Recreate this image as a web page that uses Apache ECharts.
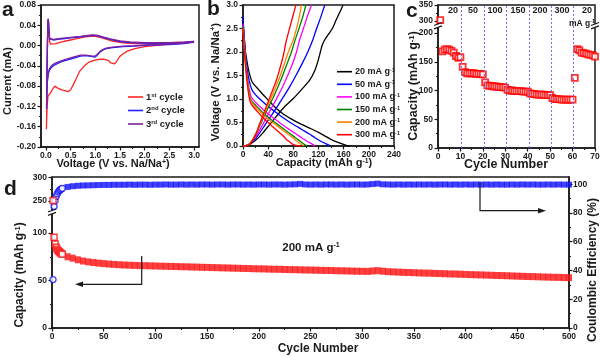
<!DOCTYPE html>
<html>
<head>
<meta charset="utf-8">
<script src="https://cdn.jsdelivr.net/npm/echarts@6.0.0/dist/echarts.min.js"></script>
<style>
html,body{margin:0;padding:0;background:#ffffff;}
#chart{width:600px;height:357px;}
</style>
</head>
<body>
<div id="chart"></div>
<script>
// ================= DATA =================
// (a) cyclic voltammetry: [voltage V, current mA]
const cvCycle1 = [[3.0,0.007],[2.8,0.005],[2.5,0.003],[2.2,0.0],[2.0,-0.002],[1.8,-0.006],[1.65,-0.011],[1.55,-0.017],[1.49,-0.022],[1.44,-0.030],[1.39,-0.036],[1.35,-0.037],[1.31,-0.034],[1.26,-0.029],[1.18,-0.027],[1.08,-0.027],[0.98,-0.029],[0.88,-0.032],[0.78,-0.040],[0.68,-0.051],[0.62,-0.064],[0.55,-0.078],[0.5,-0.087],[0.45,-0.091],[0.38,-0.089],[0.3,-0.087],[0.24,-0.084],[0.18,-0.080],[0.14,-0.085],[0.1,-0.092],[0.07,-0.095],[0.04,-0.1],[0.025,-0.12],[0.015,-0.145],[0.01,-0.165],
  [0.014,-0.14],[0.02,-0.08],[0.028,-0.02],[0.036,0.03],[0.043,0.05],[0.05,0.046],[0.06,0.025],[0.075,0.008],[0.09,0.003],[0.12,0.002],[0.2,0.004],[0.3,0.007],[0.4,0.009],[0.5,0.011],[0.6,0.013],[0.7,0.015],[0.8,0.017],[0.9,0.018],[1.0,0.018],[1.1,0.016],[1.2,0.013],[1.3,0.010],[1.4,0.008],[1.6,0.005],[1.8,0.004],[2.0,0.004],[2.3,0.004],[2.6,0.005],[2.8,0.006],[3.0,0.007]];
const cvCycle2 = [[3.0,0.007],[2.8,0.004],[2.5,0.002],[2.1,0.001],[1.8,-0.001],[1.56,-0.002],[1.35,-0.004],[1.22,-0.006],[1.15,-0.009],[1.09,-0.013],[1.04,-0.019],[0.99,-0.023],[0.94,-0.022],[0.88,-0.021],[0.8,-0.020],[0.7,-0.021],[0.55,-0.025],[0.4,-0.029],[0.28,-0.033],[0.18,-0.038],[0.11,-0.043],[0.07,-0.049],[0.047,-0.056],[0.03,-0.07],[0.02,-0.09],[0.012,-0.125],
  [0.016,-0.1],[0.022,-0.05],[0.03,0.0],[0.037,0.035],[0.044,0.052],[0.052,0.047],[0.062,0.028],[0.075,0.013],[0.09,0.010],[0.15,0.011],[0.3,0.013],[0.5,0.015],[0.7,0.017],[0.85,0.019],[0.95,0.020],[1.05,0.019],[1.15,0.016],[1.3,0.012],[1.5,0.008],[1.7,0.006],[2.0,0.005],[2.5,0.005],[2.8,0.006],[3.0,0.007]];
const cvCycle3 = [[3.0,0.008],[2.8,0.005],[2.5,0.003],[2.1,0.002],[1.8,0.0],[1.56,-0.001],[1.35,-0.003],[1.22,-0.005],[1.15,-0.008],[1.09,-0.012],[1.04,-0.017],[0.99,-0.021],[0.94,-0.021],[0.88,-0.020],[0.8,-0.019],[0.7,-0.019],[0.55,-0.023],[0.4,-0.027],[0.28,-0.031],[0.18,-0.035],[0.11,-0.040],[0.07,-0.046],[0.047,-0.053],[0.03,-0.068],[0.02,-0.088],[0.012,-0.12],
  [0.016,-0.1],[0.022,-0.05],[0.03,0.0],[0.037,0.036],[0.044,0.053],[0.052,0.048],[0.062,0.03],[0.075,0.014],[0.09,0.011],[0.15,0.012],[0.3,0.014],[0.5,0.016],[0.7,0.018],[0.85,0.020],[0.95,0.021],[1.05,0.020],[1.15,0.017],[1.3,0.013],[1.5,0.009],[1.7,0.007],[2.0,0.006],[2.5,0.006],[2.8,0.007],[3.0,0.008]];
const cvLabels = ['1{s|st} cycle', '2{s|nd} cycle', '3{s|rd} cycle'];

// (b) galvanostatic curves: [capacity mAh/g, voltage V]
const gcdRates = ['20', '50', '100', '150', '200', '300'];
const dis20 = [[0,2.65],[2,2.3],[4,2.0],[7,1.75],[10,1.55],[14,1.38],[18,1.3],[25,1.2],[32,1.09],[40,0.98],[53,0.8],[65,0.67],[80,0.55],[93,0.46],[106,0.38],[120,0.29],[132,0.2],[143,0.12],[154,0.06],[163,0.02],[170,0.0]];
const chg20 = [[0,0],[5,0.01],[10,0.03],[20,0.12],[31,0.27],[42,0.45],[53,0.63],[65,0.82],[80,1.01],[93,1.2],[106,1.4],[114,1.6],[119,1.8],[122,1.95],[126,2.15],[130,2.26],[136,2.38],[142,2.5],[148,2.68],[154,2.85],[159,3.0]];
const dis50 = [[0,2.75],[2,2.3],[4,1.95],[7,1.6],[10,1.38],[14,1.2],[18,1.12],[25,1.02],[35,0.9],[45,0.79],[55,0.69],[65,0.59],[75,0.5],[85,0.42],[95,0.34],[105,0.26],[115,0.17],[125,0.09],[133,0.04],[140,0.0]];
const chg50 = [[0,0],[5,0.01],[10,0.04],[18,0.13],[26,0.27],[35,0.45],[45,0.65],[55,0.85],[65,1.06],[75,1.28],[85,1.52],[95,1.78],[103,2.0],[111,2.26],[117,2.5],[123,2.72],[130,3.0]];
const dis100 = [[0,2.6],[2,2.2],[4,1.85],[7,1.45],[10,1.2],[13,1.05],[17,0.97],[25,0.86],[35,0.74],[45,0.63],[55,0.53],[65,0.43],[75,0.34],[85,0.25],[95,0.16],[103,0.09],[110,0.04],[115,0.0]];
const chg100 = [[0,0],[5,0.01],[10,0.04],[17,0.14],[24,0.28],[31,0.45],[39,0.65],[47,0.85],[55,1.05],[63,1.26],[71,1.5],[79,1.76],[85,2.0],[90,2.26],[96,2.5],[102,2.75],[109,3.0]];
const dis150 = [[0,2.55],[2,2.15],[4,1.8],[7,1.4],[10,1.12],[12,1.0],[16,0.92],[25,0.8],[35,0.67],[45,0.56],[55,0.46],[65,0.36],[75,0.26],[85,0.16],[93,0.08],[98,0.03],[102,0.0]];
const chg150 = [[0,0],[5,0.01],[10,0.04],[16,0.14],[22,0.29],[28,0.47],[35,0.67],[42,0.87],[49,1.06],[56,1.27],[63,1.5],[70,1.75],[77,2.0],[83,2.26],[89,2.5],[95,2.75],[100,3.0]];
const dis200 = [[0,2.5],[2,2.1],[4,1.75],[7,1.35],[10,1.08],[12,0.97],[16,0.89],[25,0.76],[35,0.63],[45,0.52],[55,0.42],[65,0.32],[75,0.22],[83,0.13],[90,0.06],[97,0.0]];
const chg200 = [[0,0],[5,0.01],[10,0.04],[15,0.13],[21,0.28],[27,0.47],[33,0.66],[39,0.85],[45,1.03],[52,1.25],[58,1.45],[64,1.68],[70,1.92],[75,2.1],[80,2.26],[86,2.55],[90,2.78],[93,3.0]];
const dis300 = [[0,2.5],[2,2.05],[4,1.7],[7,1.3],[10,1.02],[12,0.92],[16,0.84],[25,0.7],[32,0.6],[40,0.5],[53,0.34],[62,0.24],[69,0.14],[75,0.08],[80,0.03],[86,0.01],[92,0.0]];
const chg300 = [[0,0],[5,0.01],[10,0.03],[15,0.12],[21,0.27],[26,0.46],[32,0.66],[37,0.84],[42,1.01],[48,1.22],[53,1.4],[58,1.62],[64,1.92],[69,2.25],[74,2.5],[79,2.75],[84,3.0]];

// (c) rate capability
const rateCycle = [1,2,3,4,5,6,7,8,9,10,11,12,13,14,15,16,17,18,19,20,21,22,23,24,25,26,27,28,29,30,31,32,33,34,35,36,37,38,39,40,41,42,43,44,45,46,47,48,49,50,51,52,53,54,55,56,57,58,59,60,61,62,63,64,65,66,67,68,69,70];
const rateCapacity = [303,168,171,172,171,169,166,160,157,158, 141,132,130,130,130,130,129,129,129,128, 114,109,108,108,107,107,106,106,106,105, 101,100,100,99,99,99,99,98,98,98, 95,94,94,93,93,93,93,92,92,92, 87,85,85,85,84,84,84,84,84,84, 122,172,170,166,165,164,163,162,161,159];
const rateLabels = ['20', '50', '100', '150', '200', '300', '20'];
const rateSeparators = [10.5, 20.5, 30.5, 40.5, 50.5, 60.5];

// (d) long cycling at 200 mA/g
const dCycles = [1,2,3,4,5,6,7,8,9,10,15,20,25,30,35,40,45,50,55,60,65,70,75,80,85,90,95,100,105,110,115,120,125,130,135,140,145,150,155,160,165,170,175,180,185,190,195,200,205,210,215,220,225,230,235,240,245,250,255,260,265,270,275,280,285,290,295,300,305,310,315,320,325,330,335,340,345,350,355,360,365,370,375,380,385,390,395,400,405,410,415,420,425,430,435,440,445,450,455,460,465,470,475,480,485,490,495,500];
const dCapacity = [251,95.5,88.5,85.0,83.0,81.4,80.2,79.2,78.4,77.7,
  75.0,73.5,71.8,70.5,69.6,68.9,68.3,67.8,67.3,66.9,66.6,66.3,66.1,65.9,65.7,65.6,65.4,65.3,
  65.1,65.0,64.8,64.7,64.5,64.4,64.2,64.1,63.9,63.8,
  63.6,63.5,63.3,63.2,63.0,62.9,62.7,62.6,62.4,62.3,
  62.2,62.0,61.9,61.8,61.6,61.5,61.4,61.2,61.1,61.0,
  60.9,60.7,60.6,60.5,60.3,60.2,60.1,59.9,59.8,59.7,
  59.6,60.0,60.4,59.8,59.3,59.0,58.8,58.6,58.4,58.2,
  58.0,57.8,57.7,57.5,57.3,57.1,56.9,56.8,56.6,56.4,
  56.2,56.0,55.9,55.7,55.5,55.3,55.2,55.0,54.8,54.6,
  54.4,54.2,54.1,53.9,53.7,53.6,53.4,53.3,53.1,53.0];
const dEfficiency = [33.7,84.5,88.5,91.5,93.2,94.5,95.5,96.2,96.7,97.1,
  98.1,98.6,98.9,99.1,99.2,99.3,99.4,99.5,99.5,99.6,99.6,99.6,99.7,99.6,99.7,99.7,99.6,99.7,
  99.7,99.8,99.7,99.7,99.8,99.7,99.8,99.7,99.8,99.8,
  99.7,99.8,99.8,99.7,99.8,99.8,99.7,99.8,99.7,99.8,
  99.8,99.7,99.8,99.8,99.7,99.8,99.9,100.2,99.8,99.7,
  99.8,99.7,99.8,99.8,99.7,99.8,99.7,99.8,99.8,99.7,
  99.8,100.1,100.4,99.9,99.8,99.7,99.8,99.7,99.8,99.7,
  99.8,99.7,99.8,99.7,99.8,99.8,99.7,99.8,99.7,99.8,
  99.7,99.8,99.7,99.8,99.7,99.8,99.7,99.7,99.8,99.7,
  99.8,99.7,99.8,99.7,99.7,99.8,99.7,99.8,99.7,99.7];

// tick label arrays
const aXTicks = [0, 0.5, 1.0, 1.5, 2.0, 2.5, 3.0];
const aXMinor = [0.25, 0.75, 1.25, 1.75, 2.25, 2.75];
const aYTicks = [-0.20, -0.16, -0.12, -0.08, -0.04, 0.00, 0.04, 0.08];
const aYMinor = [-0.18, -0.14, -0.10, -0.06, -0.02, 0.02, 0.06];
const bXTicks = [0, 40, 80, 120, 160, 200, 240];
const bXMinor = [20, 60, 100, 140, 180, 220];
const bYTicks = [0, 0.5, 1.0, 1.5, 2.0, 2.5, 3.0];
const bYMinor = [0.25, 0.75, 1.25, 1.75, 2.25, 2.75];
const cXTicks = [0, 10, 20, 30, 40, 50, 60, 70];
const cXMinor = [5, 15, 25, 35, 45, 55, 65];
const cYLowTicks = [0, 50, 100, 150, 200];
const cYLowMinor = [25, 75, 125, 175];
const cYUpTicks = [300, 350];
const cYUpMinor = [325];
const dXTicks = [0, 50, 100, 150, 200, 250, 300, 350, 400, 450, 500];
const dXMinor = [25, 75, 125, 175, 225, 275, 325, 375, 425, 475];
const dYLowTicks = [0, 50, 100];
const dYLowMinor = [25, 75];
const dYUpTicks = [250, 300];
const dYUpMinor = [275];
const dYRightTicks = [0, 20, 40, 60, 80, 100];
const dYRightMinor = [10, 30, 50, 70, 90];

// ================= STYLE / LAYOUT =================
const FONT = '"Liberation Sans", Arial, Helvetica, sans-serif';
const INK = '#1a1a1a';
const cvColors = ['#ff2424', '#2020ff', '#7d1f9e'];
const gcdColors = ['#000000', '#0000ff', '#ff00ff', '#008000', '#ff8000', '#ff0000'];

const xAxes = [], yAxes = [];
function addAxis(list, o) {
  const idx = list.length;
  list.push({
    gridIndex: o.grid, type: 'value', min: o.min, max: o.max,
    position: o.pos, show: o.show !== false,
    axisLine: { show: true, onZero: false, lineStyle: { color: INK, width: 1.5 } },
    axisTick: { show: !!o.ticks, inside: false, length: 3.5, customValues: o.ticks, lineStyle: { color: INK, width: 1.2 } },
    axisLabel: o.labels ? { show: true, customValues: o.labels, formatter: o.fmt, margin: o.margin, fontSize: 8.5, fontWeight: 'bold', color: INK, fontFamily: FONT } : { show: false },
    splitLine: { show: false }, minorTick: { show: false }, minorSplitLine: { show: false }
  });
  if (o.minor) {
    list.push({
      gridIndex: o.grid, type: 'value', min: o.min, max: o.max, position: o.pos,
      axisLine: { show: false, onZero: false },
      axisTick: { show: true, inside: false, length: 2, customValues: o.minor, lineStyle: { color: INK, width: 1 } },
      axisLabel: { show: false }, splitLine: { show: false }
    });
  }
  return idx;
}
const f1 = v => v.toFixed(1), f2 = v => v.toFixed(2), f0 = v => String(Math.round(v));
const AX = {};
AX.aX = addAxis(xAxes, { grid: 0, min: -0.1, max: 3.1, pos: 'bottom', labels: aXTicks, ticks: aXTicks, minor: aXMinor, fmt: f1, margin: 4 });
AX.aY = addAxis(yAxes, { grid: 0, min: -0.2, max: 0.08, pos: 'left', labels: aYTicks, ticks: aYTicks, minor: aYMinor, fmt: f2, margin: 5 });
AX.bX = addAxis(xAxes, { grid: 1, min: 0, max: 240, pos: 'bottom', labels: bXTicks, ticks: bXTicks, minor: bXMinor, fmt: f0, margin: 4 });
AX.bY = addAxis(yAxes, { grid: 1, min: 0, max: 3, pos: 'left', labels: bYTicks, ticks: bYTicks, minor: bYMinor, fmt: f1, margin: 5 });
AX.cX = addAxis(xAxes, { grid: 2, min: 0, max: 70, pos: 'bottom', labels: cXTicks, ticks: cXTicks, minor: cXMinor, fmt: f0, margin: 4 });
AX.cY = addAxis(yAxes, { grid: 2, min: 0, max: 210, pos: 'left', labels: cYLowTicks, ticks: cYLowTicks, minor: cYLowMinor, fmt: f0, margin: 5 });
AX.cXu = addAxis(xAxes, { grid: 3, min: 0, max: 70, pos: 'bottom', show: false });
AX.cYu = addAxis(yAxes, { grid: 3, min: 290, max: 350, pos: 'left', labels: cYUpTicks, ticks: cYUpTicks, minor: cYUpMinor, fmt: f0, margin: 5 });
AX.cXf = addAxis(xAxes, { grid: 4, min: 0, max: 70, pos: 'bottom', show: false });
AX.cYf = addAxis(yAxes, { grid: 4, min: 0, max: 1, pos: 'left', show: false });
AX.dX = addAxis(xAxes, { grid: 5, min: 0, max: 500, pos: 'bottom', labels: dXTicks, ticks: dXTicks, minor: dXMinor, fmt: f0, margin: 4 });
AX.dYr = addAxis(yAxes, { grid: 5, min: 0, max: 105, pos: 'right', labels: dYRightTicks, ticks: dYRightTicks, minor: dYRightMinor, fmt: f0, margin: 4 });
AX.dXl = addAxis(xAxes, { grid: 6, min: 0, max: 500, pos: 'bottom', show: false });
AX.dYl = addAxis(yAxes, { grid: 6, min: 0, max: 120, pos: 'left', labels: dYLowTicks, ticks: dYLowTicks, minor: dYLowMinor, fmt: f0, margin: 5 });
AX.dXu = addAxis(xAxes, { grid: 7, min: 0, max: 500, pos: 'bottom', show: false });
AX.dYu = addAxis(yAxes, { grid: 7, min: 230, max: 300, pos: 'left', labels: dYUpTicks, ticks: dYUpTicks, minor: dYUpMinor, fmt: f0, margin: 5 });

const frame = { show: true, borderColor: INK, borderWidth: 1.5, backgroundColor: 'transparent' };
const grids = [
  Object.assign({ left: 41, top: 5, width: 158, height: 142 }, frame),
  Object.assign({ left: 243, top: 5, width: 151, height: 141 }, frame),
  { left: 438, top: 27.25, width: 157, height: 120.75, show: false },
  { left: 438, top: 5, width: 157, height: 19.2, show: false },
  Object.assign({ left: 438, top: 5, width: 157, height: 143 }, frame),
  Object.assign({ left: 52, top: 177, width: 517, height: 151 }, frame),
  { left: 52, top: 214, width: 517, height: 114, show: false },
  { left: 52, top: 177.3, width: 517, height: 33.2, show: false }
].map(g => Object.assign({ outerBoundsMode: 'none', containLabel: false }, g));

// ================= SERIES =================
const series = [];
[cvCycle1, cvCycle2, cvCycle3].forEach((d, i) => series.push({
  type: 'line', xAxisIndex: AX.aX, yAxisIndex: AX.aY, data: d, symbol: 'none', showSymbol: false,
  lineStyle: { color: cvColors[i], width: 1.3 }, z: 3 + i, silent: true
}));
const gcdDis = [dis20, dis50, dis100, dis150, dis200, dis300];
const gcdChg = [chg20, chg50, chg100, chg150, chg200, chg300];
gcdRates.forEach((r, i) => {
  [gcdDis[i], gcdChg[i]].forEach(d => series.push({
    type: 'line', xAxisIndex: AX.bX, yAxisIndex: AX.bY, data: d, symbol: 'none', showSymbol: false,
    smooth: 0.25, lineStyle: { color: gcdColors[i], width: 1.3 }, z: 3, silent: true
  }));
});
const ratePts = rateCycle.map((c, i) => [c, rateCapacity[i]]);
const rateStyle = { symbol: 'rect', symbolSize: 6, itemStyle: { color: '#ffffff', borderColor: '#ff0000', borderWidth: 1.8 } };
series.push(Object.assign({ type: 'scatter', xAxisIndex: AX.cX, yAxisIndex: AX.cY, data: ratePts.filter(p => p[1] < 250), z: 4, silent: true }, rateStyle));
series.push(Object.assign({ type: 'scatter', xAxisIndex: AX.cXu, yAxisIndex: AX.cYu, data: ratePts.filter(p => p[1] >= 250), z: 4, silent: true }, rateStyle));
series.push({
  type: 'line', xAxisIndex: AX.cXf, yAxisIndex: AX.cYf, data: [], z: 1, silent: true,
  markLine: { silent: true, symbol: ['none', 'none'], label: { show: false }, animation: false,
    lineStyle: { type: [2, 2], color: '#6b6bff', width: 1 }, data: rateSeparators.map(x => ({ xAxis: x })) }
});
const capPts = dCycles.map((c, i) => [c, dCapacity[i]]);
const cePts = dCycles.map((c, i) => [c, dEfficiency[i]]);
series.push({ type: 'scatter', xAxisIndex: AX.dX, yAxisIndex: AX.dYr, data: cePts.filter(p => p[0] > 10), symbol: 'rect', symbolSize: [6, 6], itemStyle: { color: '#1010ff' }, z: 3, silent: true });
series.push({ type: 'scatter', xAxisIndex: AX.dX, yAxisIndex: AX.dYr, data: cePts.filter(p => p[0] <= 10), symbol: 'circle', symbolSize: 6, itemStyle: { color: '#ffffff', borderColor: '#1010ff', borderWidth: 1.3 }, z: 4, silent: true });
series.push({ type: 'scatter', xAxisIndex: AX.dXl, yAxisIndex: AX.dYl, data: capPts.filter(p => p[0] > 10 && p[1] < 200), symbol: 'rect', symbolSize: [6, 7], itemStyle: { color: '#ff1010' }, z: 3, silent: true });
series.push({ type: 'scatter', xAxisIndex: AX.dXl, yAxisIndex: AX.dYl, data: capPts.filter(p => p[0] <= 10 && p[1] < 200), symbol: 'rect', symbolSize: 6, itemStyle: { color: '#ffffff', borderColor: '#ff1010', borderWidth: 1.5 }, z: 4, silent: true });
series.push({ type: 'scatter', xAxisIndex: AX.dXu, yAxisIndex: AX.dYu, data: capPts.filter(p => p[1] >= 200), symbol: 'rect', symbolSize: 6, itemStyle: { color: '#ffffff', borderColor: '#ff1010', borderWidth: 1.5 }, z: 4, silent: true });

// ================= ANNOTATIONS =================
function txt(x, y, text, size, o) {
  o = o || {};
  return { type: 'text', x: x, y: y, rotation: o.rot || 0, z: 60, silent: true,
    style: { text: text, fontSize: size, fontWeight: 'bold', fontFamily: FONT, fill: INK,
      align: o.align || 'center', verticalAlign: o.va || 'middle',
      rich: { s: { fontSize: Math.round(size * 0.62 * 10) / 10, fontWeight: 'bold', fontFamily: FONT, fill: INK, verticalAlign: 'top' } } } };
}
function seg(x1, y1, x2, y2, color, w) {
  return { type: 'line', z: 60, silent: true, shape: { x1: x1, y1: y1, x2: x2, y2: y2 }, style: { stroke: color, lineWidth: w } };
}
function brk(x, yc) {
  return [
    { type: 'rect', z: 59, silent: true, shape: { x: x - 2, y: yc - 1.6, width: 4, height: 3.2 }, style: { fill: '#ffffff' } },
    seg(x - 4, yc - 0.2, x + 4, yc - 3.2, INK, 1.2),
    seg(x - 4, yc + 3.2, x + 4, yc + 0.2, INK, 1.2)
  ];
}
const R = Math.PI / 2;
const graphics = [
  txt(2, 0, 'a', 21, { align: 'left', va: 'top' }),
  txt(207, -1, 'b', 21, { align: 'left', va: 'top' }),
  txt(406, 1, 'c', 21, { align: 'left', va: 'top' }),
  txt(4, 179, 'd', 21, { align: 'left', va: 'top' }),
  txt(113, 164, 'Voltage (V vs. Na/Na{s|+})', 11),
  txt(8, 81, 'Current (mA)', 11, { rot: R }),
  txt(324, 163, 'Capacity (mAh g{s|-1})', 11),
  txt(216, 82, 'Voltage (V vs. Na/Na{s|+})', 11.5, { rot: R }),
  txt(506, 165, 'Cycle Number', 12.5),
  txt(414, 86, 'Capacity (mAh g{s|-1})', 12.5, { rot: R }),
  txt(318, 349, 'Cycle Number', 12),
  txt(20, 275, 'Capacity (mAh g{s|-1})', 12, { rot: R }),
  txt(593, 270, 'Coulombic Efficiency (%)', 12, { rot: R }),
  txt(311, 248, '200 mA g{s|-1}', 11.5),
  txt(582, 24, 'mA g{s|-1}', 8.5)
];
// legends (a)
const aLegY = [97, 110.5, 124];
cvLabels.forEach((l, i) => {
  graphics.push(seg(128, aLegY[i], 143, aLegY[i], cvColors[i], 1.6));
  graphics.push(txt(146, aLegY[i], l, 9.5, { align: 'left' }));
});
// legends (b)
gcdRates.forEach((r, i) => {
  const y = 71.7 + 12.6 * i;
  graphics.push(seg(337, y, 352, y, gcdColors[i], 1.6));
  graphics.push(txt(355, y, r + ' mA g{s|-1}', 9, { align: 'left' }));
});
// rate labels (c)
const rateLabelX = [453, 473, 495, 518, 540, 562, 587];
rateLabels.forEach((l, i) => graphics.push(txt(rateLabelX[i], 11, l, 9)));
// axis breaks
graphics.push(...brk(438, 25.7), ...brk(595, 25.7), ...brk(52, 212.2));
// arrows (d)
graphics.push({ type: 'polyline', z: 60, silent: true, shape: { points: [[141.7, 256], [141.7, 284.3], [81, 284.3]] }, style: { stroke: INK, lineWidth: 1.2, fill: null } });
graphics.push({ type: 'polygon', z: 60, silent: true, shape: { points: [[75, 284.3], [83, 281.6], [83, 287]] }, style: { fill: INK } });
graphics.push({ type: 'polyline', z: 60, silent: true, shape: { points: [[480, 182], [480, 210.7], [540, 210.7]] }, style: { stroke: INK, lineWidth: 1.2, fill: null } });
graphics.push({ type: 'polygon', z: 60, silent: true, shape: { points: [[546, 210.7], [538, 208], [538, 213.4]] }, style: { fill: INK } });

// ================= CHART =================
const chart = echarts.init(document.getElementById('chart'), null, { renderer: 'canvas', width: 600, height: 357 });
chart.setOption({
  animation: false,
  backgroundColor: '#ffffff',
  textStyle: { fontFamily: FONT },
  grid: grids,
  xAxis: xAxes,
  yAxis: yAxes,
  series: series,
  graphic: graphics
});
</script>
</body>
</html>
